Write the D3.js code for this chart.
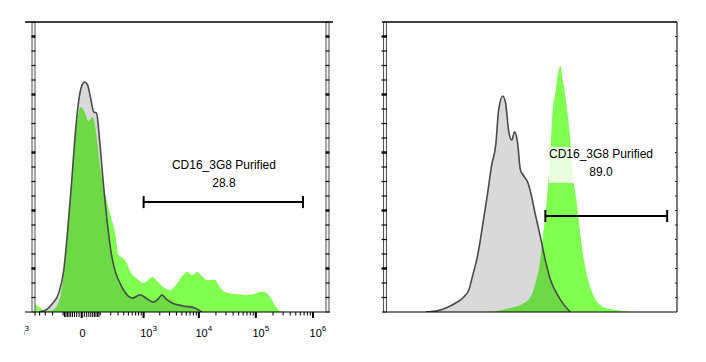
<!DOCTYPE html>
<html>
<head>
<meta charset="utf-8">
<script src="https://cdn.jsdelivr.net/npm/d3@7/dist/d3.min.js"></script>
<style>
body { margin: 0; background: #fff; }
svg { display: block; font-family: "Liberation Sans", Arial, sans-serif; }
</style>
</head>
<body>
<div id="chart"></div>
<script>
// left panel: [fluorescence value, count]
var leftGray = [[-412,0],[-290,0.7],[-197,3.1],[-136,6.6],[-95,14.5],[-68,28.3],[-44,45.5],[-29,59.3],
  [-11,73.1],[0,77.9],[11,79.3],[24,78.3],[39,73.8],[56,69],[74,68.6],[95,59.3],[127,43.8],[165,30],
  [209,19.7],[261,13.8],[338,9.7],[454,6.2],[602,4.8],[863,5.9],[1170,4.5],[1510,3.4],[1870,4.5],
  [2200,5.9],[2610,4.5],[3340,3.1],[5230,2.1],[8510,1.4],[11300,0]]
var leftGreen = [[-500,2.8],[-412,1.7],[-338,0.7],[-261,0.3],[-197,0.7],[-155,2.1],[-119,5.9],[-88,16.2],
  [-61,33.4],[-39,50.7],[-20,64.5],[-4,70.7],[11,69],[29,65.9],[50,67.2],[68,62.8],[103,49],[145,40.3],
  [197,33.4],[261,26.6],[305,19.7],[374,18.6],[454,17.2],[549,13.8],[722,11.7],[985,10],[1220,11],
  [1450,12.1],[1790,10.7],[2300,8.6],[3080,7.6],[3930,9.3],[5230,12.8],[6410,13.8],[7540,12.8],
  [9230,13.8],[11300,12.4],[13800,11],[19100,11],[23300,8.6],[28500,6.9],[42500,6.2],[63500,5.9],
  [94800,6.2],[116000,6.9],[141000,6.9],[173000,5.5],[220000,2.1],[268000,0.3],[341000,0]]

// right panel: [channel, count]
var rightGray = [[13.4,0],[16.8,0.3],[20.3,1.4],[23.7,3.1],[26.5,5.2],[28.2,7.6],[29.6,12.8],[31.3,19.7],
  [33,30],[34.7,41],[36.1,50.7],[37.5,57.6],[38.5,69.7],[39.9,74.5],[40.9,72.1],[41.9,62.8],[43,59.3],
  [44,62.1],[45,58.6],[46,49],[47.4,46.6],[48.5,44.8],[49.5,41.4],[51.2,33.4],[52.9,25.9],[54.6,17.9],
  [56.4,11],[58.8,5.9],[60.8,2.8],[63.2,0]]
var rightGreen = [[32.3,0],[37.5,0.3],[42.6,1.4],[46.7,2.8],[49.5,5.2],[51.2,10],[52.6,16.2],[53.6,24.8],
  [54.6,33.4],[55.7,45.5],[56.4,55.9],[57,67.9],[58.1,75.9],[59.1,82.8],[59.8,84.8],[60.5,80.7],
  [61.2,76.6],[62.2,69],[63.2,59.3],[63.9,49],[65.3,38.6],[66.7,26.6],[68,17.2],[69.4,11],[71.1,5.9],
  [73.5,2.4],[77,1],[82.1,0.3],[87.3,0]]

// x tick labels of the left panel
var tickVals = [-1000, 0, 1e3, 1e4, 1e5, 1e6]
var tickBase = ['10', '0', '10', '10', '10', '10']
var tickExp = ['3', '', '3', '4', '5', '6']

// gates: [from, to, count level, label level, label centre]
var leftGate = [1000, 670000, 37.9, 50.7, 27600]
var rightGate = [54.6, 96.6, 33.1, 54.5, 73.8]
var gateName = 'CD16_3G8 Purified'
var gatePct = ['28.8', '89.0']

var W = 706, H = 362
var svg = d3.select('#chart').append('svg').attr('width', W).attr('height', H)
svg.append('rect').attr('width', W).attr('height', H).attr('fill', '#fff')

var y = d3.scaleLinear().domain([0, 100]).range([312, 22])
var xL = d3.scaleSymlog().constant(90).domain([-500, 1.76e6]).range([35, 327])
var xR = d3.scaleLinear().domain([0, 100]).range([387, 677])

var defs = svg.append('defs')
defs.append('clipPath').attr('id', 'clipL').append('rect').attr('x', 35).attr('y', 20).attr('width', 292).attr('height', 292)
defs.append('clipPath').attr('id', 'clipR').append('rect').attr('x', 387).attr('y', 20).attr('width', 290).attr('height', 292)
defs.append('clipPath').attr('id', 'clipText').append('rect').attr('x', 24).attr('y', 300).attr('width', 340).attr('height', 60)

function drawHist(x, clip, gray, green) {
  var area = d3.area().x(function(d) { return x(d[0]) }).y0(y(0)).y1(function(d) { return y(d[1]) }).curve(d3.curveMonotoneX)
  var line = d3.line().x(function(d) { return x(d[0]) }).y(function(d) { return y(d[1]) }).curve(d3.curveMonotoneX)
  var g = svg.append('g').attr('clip-path', 'url(#' + clip + ')')
  g.append('path').datum(gray).attr('d', area).attr('fill', '#d9d9d9')
  g.append('path').datum(green).attr('d', area).attr('fill', 'rgb(128,255,80)').style('mix-blend-mode', 'multiply')
  g.append('path').datum(gray).attr('d', line).attr('fill', 'none').attr('stroke', '#4a4a4a').attr('stroke-width', 1.6)
}

drawHist(xL, 'clipL', leftGray, leftGreen)
drawHist(xR, 'clipR', rightGray, rightGreen)

// ladder style y axis
function ladder(x0, out) {
  var g = svg.append('g')
  g.append('rect').attr('x', x0).attr('y', 22).attr('width', 3).attr('height', 290)
    .attr('fill', '#f4f4f4').attr('stroke', '#555').attr('stroke-width', 1)
  d3.range(5, 100, 5).forEach(function(v) {
    var thick = (v - 15) % 20 == 0
    g.append('line').attr('x1', x0 - 0.5 - out).attr('x2', x0 + 3.5).attr('y1', y(v)).attr('y2', y(v))
      .attr('stroke', '#111').attr('stroke-width', thick ? 2.5 : 1.2)
  })
}
ladder(32, 0)
ladder(326, 0)
ladder(383.5, 1.5)

// frame lines
svg.append('line').attr('x1', 25).attr('x2', 333).attr('y1', 22).attr('y2', 22).attr('stroke', '#000').attr('stroke-width', 1.5)
svg.append('line').attr('x1', 382).attr('x2', 677).attr('y1', 22).attr('y2', 22).attr('stroke', '#000').attr('stroke-width', 1.5)
svg.append('line').attr('x1', 25).attr('x2', 330).attr('y1', 312).attr('y2', 312).attr('stroke', '#000').attr('stroke-width', 1.2)
svg.append('line').attr('x1', 382).attr('x2', 677).attr('y1', 312).attr('y2', 312).attr('stroke', '#000').attr('stroke-width', 1.2)
svg.append('line').attr('x1', 677).attr('x2', 677).attr('y1', 22).attr('y2', 312).attr('stroke', '#222').attr('stroke-width', 1.2)
d3.range(5, 100, 5).forEach(function(v) {
  svg.append('line').attr('x1', 675).attr('x2', 677).attr('y1', y(v)).attr('y2', y(v)).attr('stroke', '#222')
})

// left x axis ticks
var minor = []
for (var e = 1; e <= 6; e++) {
  for (var m = 1; m <= 9; m++) {
    var v = m * Math.pow(10, e)
    if (v <= 1.76e6) minor.push(v)
    if (-v >= -500) minor.push(-v)
  }
}
var ax = svg.append('g')
ax.selectAll('.minor').data(minor).enter().append('line')
  .attr('x1', function(d) { return xL(d) }).attr('x2', function(d) { return xL(d) })
  .attr('y1', 312).attr('y2', function(d) { return Math.abs(d) < 100 ? 317 : 315.5 })
  .attr('stroke', '#000').attr('stroke-width', 1)
ax.selectAll('.major').data(tickVals.slice(1)).enter().append('line')
  .attr('x1', function(d) { return xL(d) }).attr('x2', function(d) { return xL(d) })
  .attr('y1', 312).attr('y2', 318).attr('stroke', '#000').attr('stroke-width', 2)

var lab = svg.append('g').attr('clip-path', 'url(#clipText)').attr('font-size', 11).attr('fill', '#000')
tickVals.forEach(function(v, i) {
  var t = lab.append('text').attr('y', 337)
  if (v < 0) {
    // cut off at the left edge, only its tail shows
    t.attr('text-anchor', 'end').attr('x', 29)
    t.append('tspan').text('\u2212')
  } else {
    t.attr('text-anchor', 'middle').attr('x', v == 0 ? xL(0) + 1 : xL(v) + 5)
  }
  t.append('tspan').text(tickBase[i])
  if (tickExp[i]) t.append('tspan').attr('dy', -6).attr('font-size', 8).text(tickExp[i])
})

// gates with labels
function gate(x, gd, pct) {
  var g = svg.append('g')
  var x0 = x(gd[0]), x1 = x(gd[1]), gy = y(gd[2]), cx = x(gd[4]), ly = y(gd[3])
  var tg = g.append('g').attr('font-size', 12).attr('text-anchor', 'middle')
  var bg = tg.append('rect').attr('fill', '#fff').attr('fill-opacity', 0.82)
  tg.append('text').attr('x', cx).attr('y', ly + 4).text(gateName)
  tg.append('text').attr('x', cx).attr('y', ly + 22).text(pct)
  var bb = tg.node().getBBox()
  bg.attr('x', bb.x).attr('y', bb.y).attr('width', bb.width).attr('height', bb.height + 4)
  g.append('line').attr('x1', x0).attr('x2', x1).attr('y1', gy).attr('y2', gy).attr('stroke', '#000').attr('stroke-width', 2)
  ;[x0, x1].forEach(function(xx) {
    g.append('line').attr('x1', xx).attr('x2', xx).attr('y1', gy - 6).attr('y2', gy + 6).attr('stroke', '#000').attr('stroke-width', 2)
  })
}
gate(xL, leftGate, gatePct[0])
gate(xR, rightGate, gatePct[1])
</script>
</body>
</html>
